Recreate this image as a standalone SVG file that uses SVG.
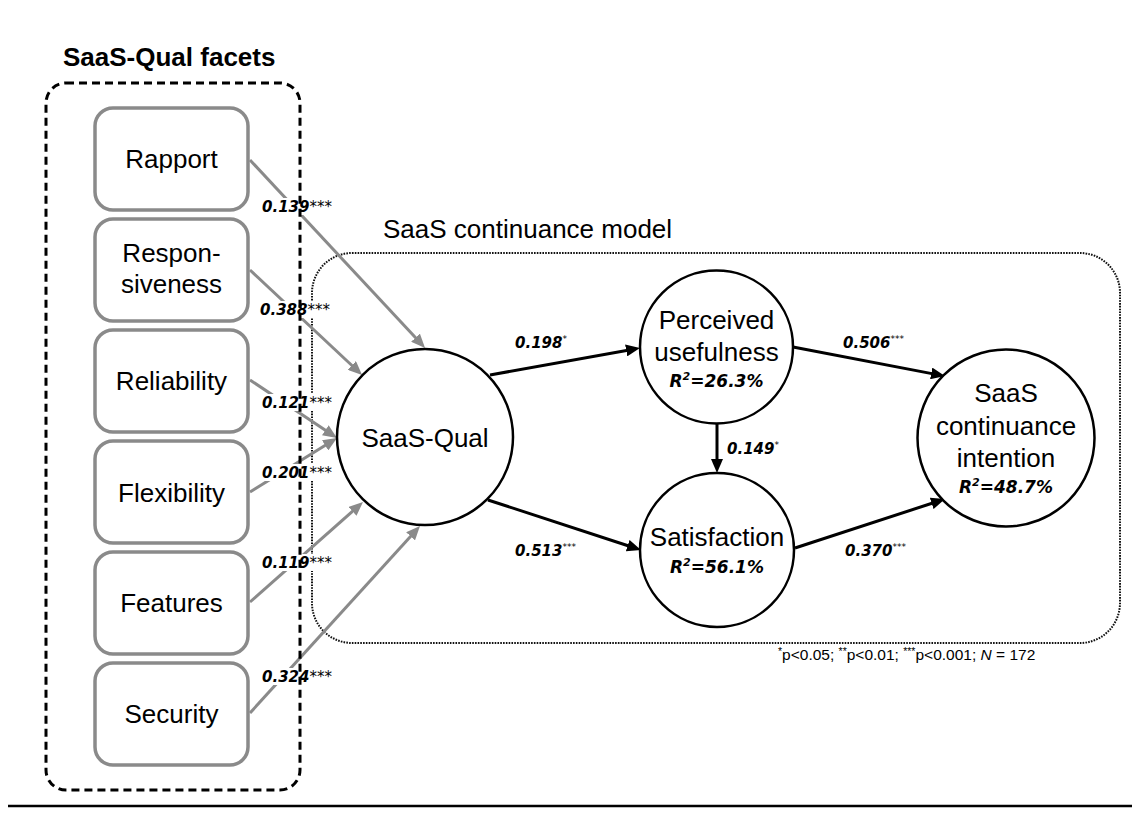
<svg xmlns="http://www.w3.org/2000/svg" width="1140" height="815" viewBox="0 0 1140 815">
<style>
.t{font-family:"Liberation Sans",Arial,sans-serif;font-size:26px;fill:#000;text-anchor:middle}
.title{font-family:"Liberation Sans",Arial,sans-serif;font-size:26px;font-weight:bold;fill:#000}
.lbl{font-family:"Liberation Sans",Arial,sans-serif;font-size:26px;fill:#000}
.c{font-family:"DejaVu Sans",Verdana,sans-serif;font-size:15px;font-weight:bold;font-style:italic;fill:#000}
.st{font-weight:normal}
.sup{font-size:9px;font-weight:normal}
.r2{font-family:"DejaVu Sans",Verdana,sans-serif;font-size:17px;font-weight:bold;font-style:italic;fill:#000;text-anchor:middle}
.fn{font-family:"Liberation Sans",Arial,sans-serif;font-size:15.5px;fill:#000}
.box{fill:#fff;stroke:#8a8a8a;stroke-width:3.5}
.circ{fill:#fff;stroke:#000;stroke-width:2.5}
.ga{stroke:#8a8a8a;stroke-width:3;fill:none;marker-end:url(#mg)}
.ba{stroke:#000;stroke-width:3;fill:none;marker-end:url(#mb)}
.bg{fill:#fff}
</style>
<defs>
<marker id="mg" viewBox="0 0 14 12" refX="6" refY="6" markerWidth="14" markerHeight="12" orient="auto" markerUnits="userSpaceOnUse"><path d="M0,0 L14,6 L0,12 z" fill="#8a8a8a"/></marker>
<marker id="mb" viewBox="0 0 14 12" refX="6" refY="6" markerWidth="14" markerHeight="12" orient="auto" markerUnits="userSpaceOnUse"><path d="M0,0 L14,6 L0,12 z" fill="#000"/></marker>
</defs>
<rect width="1140" height="815" fill="#fff"/>

<g id="continuance-model">
<rect x="312" y="253" width="808" height="390" rx="40" fill="none" stroke="#111" stroke-width="2" stroke-dasharray="1.6 1.2"/>
<text class="lbl" x="383" y="238">SaaS continuance model</text>
</g>

<g id="connectors">
<line class="ga" x1="250" y1="160" x2="419.6" y2="342.1"/>
<line class="ga" x1="250" y1="270" x2="356.2" y2="369.5"/>
<line class="ga" x1="250" y1="380" x2="330.3" y2="433.6"/>
<line class="ga" x1="250" y1="492" x2="330.2" y2="442.2"/>
<line class="ga" x1="250" y1="602" x2="357.0" y2="507.3"/>
<line class="ga" x1="250" y1="713" x2="414.6" y2="531.9"/>
<line class="ba" x1="490" y1="375" x2="632.1" y2="349.4"/>
<line class="ba" x1="488" y1="500" x2="633.4" y2="547.5"/>
<line class="ba" x1="793" y1="347" x2="937.1" y2="374.6"/>
<line class="ba" x1="795" y1="548" x2="937.4" y2="501.5"/>
<line class="ba" x1="717" y1="423" x2="717" y2="465"/>

<rect class="bg" x="259" y="198" width="78" height="17"/>
<rect class="bg" x="257" y="301" width="80" height="17"/>
<rect class="bg" x="259" y="394" width="78" height="17"/>
<rect class="bg" x="259" y="464" width="78" height="17"/>
<rect class="bg" x="259" y="554" width="78" height="17"/>
<rect class="bg" x="259" y="668" width="78" height="17"/>
<text class="c" x="262" y="212">0.139<tspan class="st">***</tspan></text>
<text class="c" x="260" y="315">0.388<tspan class="st">***</tspan></text>
<text class="c" x="262" y="408">0.121<tspan class="st">***</tspan></text>
<text class="c" x="262" y="478">0.201<tspan class="st">***</tspan></text>
<text class="c" x="262" y="568">0.119<tspan class="st">***</tspan></text>
<text class="c" x="262" y="682">0.324<tspan class="st">***</tspan></text>

<text class="c" x="515" y="348">0.198<tspan class="sup" dy="-6">*</tspan></text>
<text class="c" x="515" y="556">0.513<tspan class="sup" dy="-6">***</tspan></text>
<text class="c" x="843" y="348">0.506<tspan class="sup" dy="-6">***</tspan></text>
<text class="c" x="845" y="556">0.370<tspan class="sup" dy="-6">***</tspan></text>
<text class="c" x="727" y="454">0.149<tspan class="sup" dy="-6">*</tspan></text>
</g>

<g id="facets-group">
<text class="title" x="63" y="66">SaaS-Qual facets</text>
<rect x="46" y="83" width="254" height="707" rx="20" fill="none" stroke="#000" stroke-width="3" stroke-dasharray="8 5"/>
</g>

<g id="rapport"><rect class="box" x="95" y="108" width="153" height="102" rx="18"/><text class="t" x="171.5" y="168">Rapport</text></g>
<g id="responsiveness"><rect class="box" x="95" y="219" width="153" height="102" rx="18"/><text class="t" x="171.5" y="262">Respon-</text><text class="t" x="171.5" y="293">siveness</text></g>
<g id="reliability"><rect class="box" x="95" y="330" width="153" height="102" rx="18"/><text class="t" x="171.5" y="390">Reliability</text></g>
<g id="flexibility"><rect class="box" x="95" y="441" width="153" height="102" rx="18"/><text class="t" x="171.5" y="502">Flexibility</text></g>
<g id="features"><rect class="box" x="95" y="552" width="153" height="102" rx="18"/><text class="t" x="171.5" y="612">Features</text></g>
<g id="security"><rect class="box" x="95" y="663" width="153" height="102" rx="18"/><text class="t" x="171.5" y="723">Security</text></g>

<g id="saas-qual"><circle class="circ" cx="425" cy="437" r="88"/><text class="t" x="425" y="447">SaaS-Qual</text></g>
<g id="perceived-usefulness"><circle class="circ" cx="716.5" cy="347" r="76.5"/><text class="t" x="716.5" y="329">Perceived</text><text class="t" x="716.5" y="361">usefulness</text><text class="r2" x="716.5" y="387">R<tspan font-size="11" dy="-7">2</tspan><tspan dy="7">=26.3%</tspan></text></g>
<g id="satisfaction"><circle class="circ" cx="717" cy="550" r="77"/><text class="t" x="717" y="546">Satisfaction</text><text class="r2" x="717" y="573">R<tspan font-size="11" dy="-7">2</tspan><tspan dy="7">=56.1%</tspan></text></g>
<g id="continuance-intention"><circle class="circ" cx="1006" cy="438" r="88.5"/><text class="t" x="1006" y="402">SaaS</text><text class="t" x="1006" y="435">continuance</text><text class="t" x="1006" y="467">intention</text><text class="r2" x="1006" y="493">R<tspan font-size="11" dy="-7">2</tspan><tspan dy="7">=48.7%</tspan></text></g>

<text class="fn" x="778" y="660"><tspan font-size="10.5" dy="-5">*</tspan><tspan dy="5">p&lt;0.05; </tspan><tspan font-size="10.5" dy="-5">**</tspan><tspan dy="5">p&lt;0.01; </tspan><tspan font-size="10.5" dy="-5">***</tspan><tspan dy="5">p&lt;0.001; </tspan><tspan font-style="italic">N</tspan> = 172</text>

<line x1="8" y1="806" x2="1132" y2="806" stroke="#000" stroke-width="2.5"/>
</svg>
